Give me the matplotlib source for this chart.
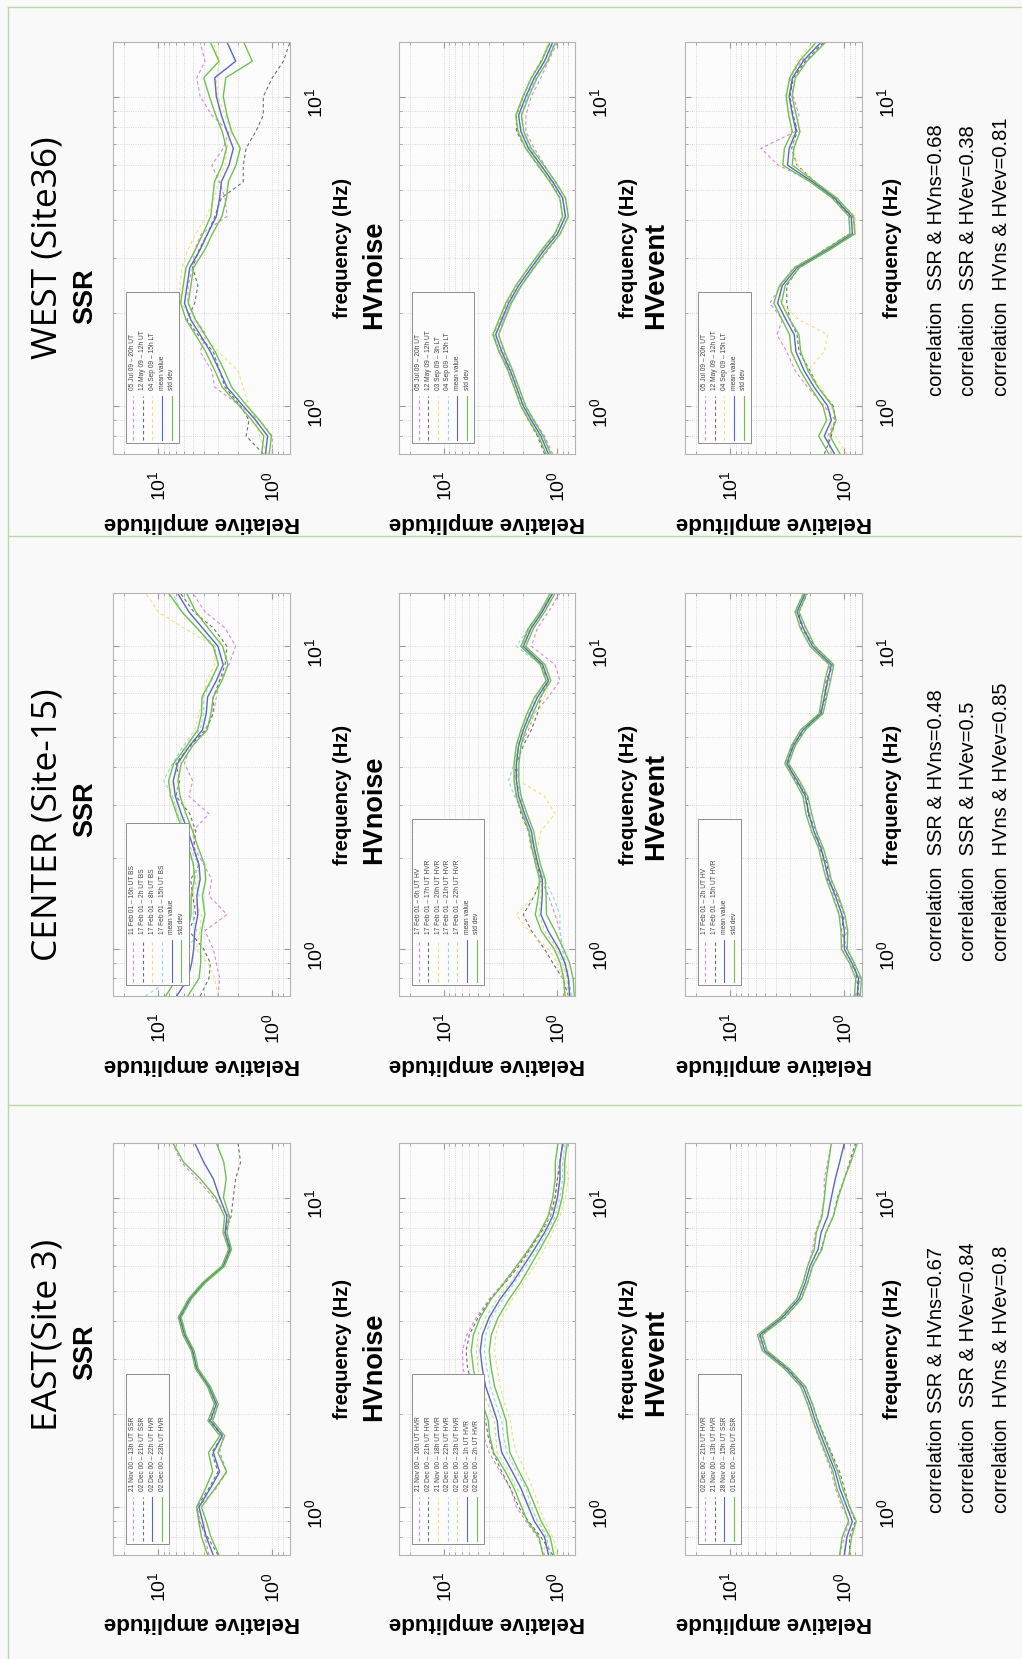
import matplotlib
matplotlib.use('Agg')
import matplotlib.pyplot as plt
from matplotlib.lines import Line2D
from matplotlib.patches import Rectangle
from matplotlib.ticker import LogLocator, NullFormatter

plt.rcParams['font.family'] = ['Liberation Sans', 'DejaVu Sans']
plt.rcParams['mathtext.fontset'] = 'custom'
plt.rcParams['mathtext.rm'] = 'Liberation Sans'
plt.rcParams['mathtext.it'] = 'Liberation Sans:italic'
plt.rcParams['mathtext.bf'] = 'Liberation Sans:bold'

W, H = 1022, 1659

# frequency samples (Hz) shared by all panels
FREQ = [0.7, 0.8, 0.9, 1.0, 1.15, 1.3, 1.5, 1.7, 1.9, 2.15, 2.45, 2.8, 3.2, 3.6,
        4.1, 4.7, 5.3, 6.0, 6.8, 7.7, 8.7, 10, 11.5, 13, 15]

# ---------------- EAST (Site 3) ----------------
east_ssr_mean = [3.3, 3.8, 4.1, 4.4, 3.5, 2.9, 3.3, 2.75, 3.5, 3.1, 3.6, 4.6, 5.0, 5.9, 6.5, 5.3, 4.0, 2.7, 2.35, 2.6, 2.5, 2.9, 3.3, 4.0, 4.8]
east_ssr_std = [1.12, 1.1, 1.08, 1.05, 1.1, 1.15, 1.1, 1.05, 1.05, 1.04, 1.03, 1.03, 1.03, 1.03, 1.03, 1.03, 1.03, 1.03, 1.03, 1.04, 1.05, 1.08, 1.3, 1.5, 1.55]
east_ssr_runs = [
    [3.6, 3.9, 4.3, 4.5, 3.1, 2.5, 2.9, 2.7, 3.4, 3.0, 3.6, 4.6, 5.1, 6.1, 6.6, 5.3, 3.9, 2.7, 2.4, 2.6, 2.4, 3.3, 4.6, 6.3, 7.5],
    [3.0, 3.7, 4.4, 4.6, 3.6, 3.0, 3.4, 2.75, 3.6, 3.2, 3.7, 4.7, 5.0, 5.8, 6.4, 5.2, 4.0, 2.7, 2.3, 2.6, 2.3, 2.2, 2.1, 1.9, 2.0],
]
east_ssr_labels = ['21 Nov 00 – 13h UT SSR', '02 Dec 00 – 21h UT SSR',
                   '02 Dec 00 – 22h UT HVR', '02 Dec 00 – 23h UT HVR']

east_hvn_mean = [1.2, 1.3, 1.6, 1.8, 2.1, 2.5, 3.1, 3.3, 3.4, 3.8, 4.3, 4.6, 4.8, 4.6, 4.0, 3.2, 2.5, 2.0, 1.6, 1.3, 1.1, 1.0, 0.95, 0.95, 0.9]
east_hvn_std = [1.12, 1.12, 1.15, 1.15, 1.15, 1.15, 1.18, 1.2, 1.2, 1.2, 1.2, 1.2, 1.2, 1.2, 1.2, 1.2, 1.18, 1.15, 1.12, 1.1, 1.1, 1.1, 1.1, 1.1, 1.1]
east_hvn_runs = [
    [1.3, 1.5, 1.9, 2.3, 2.6, 3.2, 4.0, 4.5, 4.8, 5.4, 6.2, 6.8, 6.9, 6.3, 5.2, 4.0, 3.0, 2.3, 1.8, 1.45, 1.2, 1.05, 1.0, 0.95, 0.9],
    [1.1, 1.4, 1.8, 2.2, 2.6, 3.1, 3.7, 4.1, 4.3, 4.9, 5.6, 6.2, 6.4, 6.0, 5.0, 3.9, 2.9, 2.2, 1.75, 1.4, 1.15, 1.05, 1.0, 0.95, 0.9],
    [1.0, 1.1, 1.3, 1.45, 1.65, 1.9, 2.3, 2.5, 2.6, 2.9, 3.2, 3.4, 3.6, 3.5, 3.1, 2.5, 2.0, 1.6, 1.3, 1.1, 0.95, 0.85, 0.8, 0.85, 0.85],
    [1.15, 1.25, 1.5, 1.7, 1.9, 2.3, 2.8, 3.0, 3.1, 3.5, 3.9, 4.2, 4.4, 4.3, 3.8, 3.0, 2.4, 1.9, 1.5, 1.25, 1.05, 0.95, 0.9, 0.9, 0.85],
    [1.35, 1.2, 1.5, 1.7, 2.3, 2.7, 3.4, 3.5, 3.6, 4.1, 4.7, 5.0, 5.2, 5.0, 4.3, 3.4, 2.6, 2.1, 1.7, 1.35, 1.15, 1.0, 0.95, 0.95, 0.9],
]
east_hvn_labels = ['21 Nov 00 – 16h UT HVR', '02 Dec 00 – 21h UT HVR', '21 Nov 00 – 18h UT HVR',
                   '02 Dec 00 – 22h UT HVR', '02 Dec 00 – 23h UT HVR', '02 Dec 00 – 1h UT HVR',
                   '02 Dec 00 – 2h UT HVR']

east_hve_mean = [1.0, 0.95, 0.85, 0.95, 1.1, 1.2, 1.4, 1.6, 1.8, 2.0, 2.3, 3.2, 5.0, 5.5, 3.5, 2.5, 2.2, 2.0, 1.7, 1.6, 1.4, 1.3, 1.2, 1.1, 1.0]
east_hve_std = [1.1, 1.1, 1.08, 1.06, 1.06, 1.05, 1.05, 1.05, 1.05, 1.05, 1.05, 1.05, 1.05, 1.05, 1.05, 1.05, 1.05, 1.05, 1.08, 1.1, 1.12, 1.15, 1.2, 1.25, 1.3]
east_hve_runs = [
    [1.1, 1.0, 0.9, 1.05, 1.2, 1.3, 1.5, 1.7, 1.9, 2.1, 2.4, 3.3, 5.2, 5.6, 3.6, 2.6, 2.3, 2.1, 1.9, 1.8, 1.6, 1.5, 1.5, 1.4, 1.3],
    [0.9, 0.9, 0.8, 0.9, 1.0, 1.1, 1.3, 1.5, 1.7, 1.9, 2.2, 3.1, 4.8, 5.3, 3.3, 2.4, 2.1, 1.9, 1.6, 1.45, 1.25, 1.15, 1.0, 0.9, 0.8],
]
east_hve_labels = ['02 Dec 00 – 21h UT HVR', '21 Nov 00 – 13h UT HVR',
                   '28 Nov 00 – 15h UT SSR', '01 Dec 00 – 20h UT SSR']

# ---------------- CENTER (Site-15) ----------------
center_ssr_mean = [6.9, 5.5, 5.1, 4.9, 4.8, 4.5, 4.6, 4.3, 4.4, 4.9, 5.5, 6.3, 7.1, 7.4, 6.8, 5.3, 4.1, 3.8, 3.7, 3.1, 2.7, 3.0, 4.1, 5.4, 6.8]
center_ssr_std = [1.25, 1.25, 1.2, 1.15, 1.15, 1.15, 1.12, 1.12, 1.12, 1.1, 1.1, 1.1, 1.1, 1.1, 1.08, 1.06, 1.1, 1.1, 1.12, 1.12, 1.1, 1.1, 1.12, 1.15, 1.2]
center_ssr_runs = [
    [3.0, 2.9, 3.1, 3.3, 3.9, 2.5, 3.6, 3.4, 4.0, 4.8, 5.0, 3.6, 5.4, 5.0, 5.9, 5.2, 3.9, 3.3, 3.1, 2.9, 2.4, 2.1, 2.6, 3.9, 5.0],
    [4.3, 3.6, 3.5, 4.0, 5.4, 4.7, 5.0, 5.2, 4.4, 4.9, 4.7, 5.3, 7.0, 6.5, 7.0, 5.3, 3.8, 3.3, 3.3, 2.9, 2.6, 2.5, 3.3, 4.9, 6.4],
    [3.0, 3.2, 3.7, 4.7, 4.3, 4.2, 5.0, 4.4, 5.0, 5.5, 6.0, 6.5, 8.0, 7.5, 6.5, 6.0, 4.8, 4.4, 4.0, 3.8, 3.2, 3.2, 6.0, 10.0, 13.0],
    [13.0, 7.5, 5.8, 5.4, 4.6, 5.0, 4.4, 4.8, 4.5, 5.2, 5.6, 6.8, 7.5, 9.0, 7.5, 6.0, 4.3, 4.0, 4.0, 3.4, 3.0, 3.2, 4.6, 6.3, 7.5],
]
center_ssr_labels = ['11 Feb 01 – 16h UT BS', '17 Feb 01 – 2h UT BS', '17 Feb 01 – 8h UT BS',
                     '17 Feb 01 – 15h UT BS', 'mean value', 'std dev']

center_hvn_mean = [0.78, 0.8, 0.86, 0.97, 1.21, 1.4, 1.36, 1.36, 1.48, 1.6, 1.7, 1.95, 2.2, 2.3, 2.3, 2.2, 2.0, 1.75, 1.5, 1.2, 1.35, 2.0, 1.7, 1.36, 1.1]
center_hvn_std = [1.1, 1.1, 1.1, 1.1, 1.15, 1.12, 1.08, 1.06, 1.05, 1.05, 1.05, 1.05, 1.05, 1.05, 1.05, 1.05, 1.05, 1.06, 1.06, 1.05, 1.05, 1.05, 1.05, 1.05, 1.05]
center_hvn_runs = [
    [0.75, 0.8, 0.85, 0.9, 0.95, 1.05, 1.2, 1.4, 1.5, 1.6, 1.8, 2.0, 2.1, 2.3, 2.2, 2.1, 1.8, 1.6, 1.2, 0.95, 1.05, 1.7, 1.5, 1.2, 0.95],
    [0.8, 0.9, 1.1, 1.3, 1.7, 2.0, 1.6, 1.4, 1.5, 1.7, 1.8, 2.1, 2.3, 2.4, 2.3, 2.0, 1.7, 1.5, 1.4, 1.2, 1.4, 2.1, 1.8, 1.4, 1.1],
    [0.85, 0.9, 1.0, 1.2, 1.8, 2.3, 1.6, 1.4, 1.6, 1.5, 1.4, 1.05, 1.3, 2.2, 2.2, 2.1, 1.9, 1.6, 1.3, 1.15, 1.3, 2.1, 1.7, 1.3, 1.1],
    [0.75, 0.8, 0.85, 0.9, 0.95, 0.95, 1.1, 1.3, 1.5, 1.6, 1.8, 2.0, 2.4, 2.7, 2.4, 2.2, 1.9, 1.7, 1.5, 1.25, 1.4, 2.3, 1.8, 1.4, 1.1],
    [0.8, 0.82, 0.9, 1.0, 1.3, 1.45, 1.4, 1.38, 1.5, 1.65, 1.75, 2.0, 2.25, 2.35, 2.35, 2.25, 2.05, 1.8, 1.55, 1.25, 1.4, 2.05, 1.75, 1.4, 1.15],
]
center_hvn_labels = ['17 Feb 01 – 6h UT HV', '17 Feb 01 – 17h UT HVR', '17 Feb 01 – 20h UT HVR',
                     '17 Feb 01 – 21h UT HVR', '17 Feb 01 – 22h UT HVR', 'mean value', 'std dev']

center_hve_mean = [0.77, 0.75, 0.86, 1.0, 1.0, 1.05, 1.2, 1.37, 1.47, 1.6, 1.85, 2.05, 2.2, 2.6, 3.2, 2.8, 2.3, 1.6, 1.5, 1.4, 1.3, 1.9, 2.3, 2.6, 2.2]
center_hve_std = [1.06, 1.06, 1.05, 1.06, 1.07, 1.06, 1.06, 1.05, 1.06, 1.05, 1.05, 1.06, 1.05, 1.05, 1.04, 1.04, 1.05, 1.04, 1.05, 1.06, 1.05, 1.05, 1.06, 1.04, 1.03]
center_hve_runs = [
    [0.8, 0.72, 0.9, 1.05, 0.95, 1.1, 1.25, 1.3, 1.55, 1.55, 1.95, 2.0, 2.3, 2.5, 3.35, 2.7, 2.4, 1.55, 1.6, 1.35, 1.35, 2.0, 2.2, 2.7, 2.3],
    [0.74, 0.78, 0.82, 0.95, 1.06, 1.0, 1.15, 1.42, 1.4, 1.65, 1.75, 2.1, 2.1, 2.7, 3.1, 2.9, 2.2, 1.65, 1.45, 1.45, 1.25, 1.8, 2.4, 2.5, 2.1],
]
center_hve_labels = ['17 Feb 01 – 2h UT HV', '17 Feb 01 – 15h UT HVR', 'mean value', 'std dev']

# ---------------- WEST (Site36) ----------------
west_ssr_mean = [1.15, 1.1, 1.4, 1.8, 2.5, 2.9, 3.5, 4.3, 5.2, 5.9, 5.6, 5.3, 4.3, 3.7, 3.1, 2.9, 2.8, 2.4, 2.2, 2.5, 2.8, 3.1, 3.2, 2.1, 2.5]
west_ssr_std = [1.08, 1.08, 1.08, 1.08, 1.1, 1.1, 1.1, 1.1, 1.1, 1.08, 1.08, 1.08, 1.1, 1.1, 1.12, 1.15, 1.15, 1.15, 1.15, 1.1, 1.12, 1.15, 1.25, 1.4, 1.4]
west_ssr_runs = [
    [1.0, 1.0, 1.3, 1.9, 3.2, 3.4, 4.3, 3.8, 4.7, 5.5, 5.5, 5.0, 4.8, 4.2, 2.5, 2.6, 2.9, 3.4, 2.7, 2.4, 3.4, 4.3, 4.6, 3.9, 4.3],
    [1.2, 1.7, 1.6, 1.9, 2.6, 2.9, 3.3, 4.5, 5.6, 4.8, 4.5, 5.0, 4.4, 3.7, 3.2, 2.8, 1.8, 1.8, 1.7, 1.4, 1.2, 1.2, 1.0, 0.8, 0.7],
    [1.1, 1.3, 1.4, 1.6, 1.8, 2.0, 3.0, 4.0, 5.0, 6.3, 6.5, 6.2, 5.5, 4.7, 3.8, 3.2, 3.0, 2.6, 2.5, 2.3, 2.6, 3.0, 3.1, 2.9, 3.3],
]
west_ssr_labels = ['05 Jul 09 – 20h UT', '12 May 09 – 12h UT', '04 Sep 09 – 15h LT',
                   'mean value', 'std dev']

west_hvn_mean = [1.2, 1.4, 1.7, 2.0, 2.3, 2.6, 3.1, 3.5, 3.1, 2.7, 2.2, 1.7, 1.3, 1.0, 0.85, 0.9, 1.1, 1.4, 1.8, 2.1, 2.2, 1.9, 1.6, 1.3, 1.1]
west_hvn_std = [1.05, 1.05, 1.05, 1.05, 1.05, 1.05, 1.06, 1.06, 1.06, 1.06, 1.06, 1.06, 1.06, 1.06, 1.06, 1.06, 1.06, 1.06, 1.06, 1.06, 1.06, 1.06, 1.06, 1.06, 1.06]
west_hvn_runs = [
    [1.1, 1.3, 1.6, 1.9, 2.2, 2.5, 3.0, 3.3, 3.0, 2.6, 2.1, 1.6, 1.2, 0.95, 0.8, 0.85, 1.05, 1.3, 1.6, 1.9, 1.9, 1.7, 1.4, 1.2, 1.0],
    [1.3, 1.5, 1.8, 2.1, 2.4, 2.7, 3.2, 3.7, 3.2, 2.8, 2.3, 1.8, 1.35, 1.05, 0.9, 0.95, 1.15, 1.5, 1.9, 2.3, 2.3, 2.0, 1.7, 1.4, 1.15],
    [1.25, 1.45, 1.75, 2.05, 2.35, 2.75, 3.2, 3.6, 3.2, 2.8, 2.3, 1.8, 1.35, 1.0, 0.85, 0.9, 1.1, 1.45, 1.85, 2.2, 2.3, 2.0, 1.7, 1.4, 1.2],
    [1.15, 1.35, 1.65, 1.95, 2.2, 2.6, 3.3, 3.6, 3.0, 2.6, 2.1, 1.65, 1.3, 1.0, 0.85, 0.9, 1.1, 1.4, 1.75, 2.0, 2.1, 1.85, 1.55, 1.3, 1.05],
]
west_hvn_labels = ['05 Jul 09 – 20h UT', '12 May 09 – 12h UT', '03 Sep 09 – 3h LT',
                   '04 Sep 09 – 15h LT', 'mean value', 'std dev']

west_hve_mean = [1.22, 1.5, 1.3, 1.4, 1.84, 2.25, 2.66, 2.75, 3.25, 3.85, 3.5, 2.6, 1.4, 0.85, 0.87, 1.22, 1.9, 3.15, 3.05, 2.65, 2.85, 3.05, 2.85, 2.3, 1.6]
west_hve_std = [1.12, 1.12, 1.1, 1.1, 1.08, 1.08, 1.1, 1.1, 1.08, 1.08, 1.06, 1.05, 1.05, 1.05, 1.05, 1.05, 1.05, 1.1, 1.1, 1.08, 1.08, 1.06, 1.06, 1.08, 1.1]
west_hve_runs = [
    [1.3, 1.4, 1.2, 1.5, 2.1, 2.7, 3.2, 3.9, 3.5, 4.5, 3.6, 2.8, 1.4, 0.8, 0.85, 1.2, 1.9, 3.8, 5.4, 2.7, 2.5, 2.8, 3.0, 2.4, 1.5],
    [1.5, 1.3, 1.2, 1.25, 1.7, 2.0, 2.5, 2.6, 3.0, 3.2, 3.2, 2.5, 1.5, 0.9, 0.9, 1.25, 1.8, 2.6, 2.9, 2.6, 2.8, 3.0, 2.8, 2.2, 1.5],
    [0.95, 1.2, 1.35, 1.3, 1.6, 2.1, 1.5, 1.4, 2.5, 3.6, 3.7, 2.7, 1.5, 0.8, 0.8, 1.2, 1.8, 2.6, 2.8, 2.9, 3.0, 3.3, 3.0, 2.6, 1.9],
]
west_hve_labels = ['05 Jul 09 – 20h UT', '12 May 09 – 12h UT', '04 Sep 09 – 15h LT',
                   'mean value', 'std dev']

correlations = {
    'WEST': ['correlation  SSR & HVns=0.68', 'correlation  SSR & HVev=0.38', 'correlation  HVns & HVev=0.81'],
    'CENTER': ['correlation  SSR & HVns=0.48', 'correlation  SSR & HVev=0.5', 'correlation  HVns & HVev=0.85'],
    'EAST': ['correlation SSR & HVns=0.67', 'correlation  SSR & HVev=0.84', 'correlation  HVns & HVev=0.8'],
}
site_titles = {'WEST': 'WEST (Site36)', 'CENTER': 'CENTER (Site-15)', 'EAST': 'EAST(Site 3)'}
method_titles = ['SSR', 'HVnoise', 'HVevent']

BLUE = '#5b67c2'
GREEN = '#6fc152'
DASH_COLORS = ['#d88ad0', '#6e6e6e', '#efe07a', '#92d6ea', '#c8df7c']
BG = '#f9f9f9'
LINE_GREEN = '#b9d9a2'

# pixel layout of the page (rotated figure)
COLS = [(113, 290), (399, 575), (685, 862)]
ROWS = {'WEST': (42, 454), 'CENTER': (593, 996), 'EAST': (1143, 1555)}
FREQ_LABEL_DX = [52, 53, 30]
TITLE_POS = {'WEST': (48, 248), 'CENTER': (48, 825), 'EAST': (48, 1335)}
METHOD_X = [85, 374, 656]
METHOD_Y = {'WEST': [296, 275, 275], 'CENTER': [809, 810, 806], 'EAST': [1352, 1367, 1362]}
CORR_X = [936, 968, 1001]
CORR_Y = {'WEST': 396, 'CENTER': 961, 'EAST': 1513}
SEPARATORS = [7, 536, 1105]

fig = plt.figure(figsize=(W / 100, H / 100), dpi=100, facecolor=BG)


def fx(x):
    return x / W


def fy(y):
    return 1 - y / H


def draw_legend(ax, labels, n_runs):
    n = len(labels)
    step = 0.055
    x0, y0 = 0.072, 0.027
    w = 0.08 + (n - 1) * step
    h = 0.16 + 0.0115 * max(len(s) for s in labels)
    ax.add_patch(Rectangle((x0, y0), w, h, transform=ax.transAxes, facecolor='#fcfcfc',
                           edgecolor='#8c8c8c', lw=0.7, zorder=5))
    for i, label in enumerate(labels):
        x = x0 + 0.04 + i * step
        if i < n_runs:
            color, ls = DASH_COLORS[i], (0, (3, 2.5))
        elif i == n_runs:
            color, ls = BLUE, '-'
        else:
            color, ls = GREEN, '-'
        ax.add_line(Line2D([x, x], [0.035, 0.14], transform=ax.transAxes, color=color,
                           ls=ls, lw=0.8, zorder=6))
        ax.text(x, 0.155, label, transform=ax.transAxes, rotation=90, ha='center',
                va='bottom', fontsize=4.8, color='#444444', zorder=6)


def draw_panel(col, row, mean, std, runs, labels):
    x0, x1 = COLS[col]
    y0, y1 = ROWS[row]
    ax = fig.add_axes([fx(x0), fy(y1), (x1 - x0) / W, (y1 - y0) / H])
    ax.set_facecolor('#fcfcfc')

    for i, run in enumerate(runs):
        ax.plot(run, FREQ, color=DASH_COLORS[i], lw=0.8, ls=(0, (3, 2.5)))
    ax.plot(mean, FREQ, color=BLUE, lw=1.0)
    ax.plot([m * s for m, s in zip(mean, std)], FREQ, color=GREEN, lw=1.0)
    ax.plot([m / s for m, s in zip(mean, std)], FREQ, color=GREEN, lw=1.0)

    # amplitude runs horizontally (reversed), frequency vertically
    ax.set_xscale('log')
    ax.set_yscale('log')
    ax.set_xlim(25, 0.7)
    ax.set_ylim(0.7, 15)
    ax.set_xticks([1, 10])
    ax.set_xticklabels(['$10^{0}$', '$10^{1}$'], rotation=90)
    ax.set_yticks([1, 10])
    ax.set_yticklabels(['$10^{0}$', '$10^{1}$'], rotation=90)
    ax.xaxis.set_minor_locator(LogLocator(base=10, subs=(2, 3, 4, 5, 6, 7, 8, 9)))
    ax.yaxis.set_minor_locator(LogLocator(base=10, subs=(2, 3, 4, 5, 6, 7, 8, 9)))
    ax.xaxis.set_minor_formatter(NullFormatter())
    ax.yaxis.set_minor_formatter(NullFormatter())
    ax.tick_params(which='both', direction='in', top=True, bottom=True, left=True, right=True,
                   labelleft=False, labelright=True, color='#9a9a9a')
    ax.tick_params(which='major', length=4)
    ax.tick_params(which='minor', length=2)
    ax.tick_params(axis='x', labelsize=14, pad=12)
    ax.tick_params(axis='y', labelsize=14, pad=10)
    ax.grid(True, which='both', ls=':', color='#cdcdcd', lw=0.6)
    for sp in ax.spines.values():
        sp.set_color('#b4b4b4')
        sp.set_linewidth(0.8)

    draw_legend(ax, labels, len(runs))

    ax.annotate('Relative amplitude', xy=(0.5, 0), xycoords='axes fraction', xytext=(0, -68),
                textcoords='offset pixels', rotation=180, ha='center', va='center',
                fontsize=16, fontweight='bold')
    ax.annotate('frequency (Hz)', xy=(1, 0.5), xycoords='axes fraction',
                xytext=(FREQ_LABEL_DX[col], 0), textcoords='offset pixels', rotation=90,
                ha='center', va='center', fontsize=14.5, fontweight='bold')
    return ax


panels = [
    (0, 'EAST', east_ssr_mean, east_ssr_std, east_ssr_runs, east_ssr_labels),
    (1, 'EAST', east_hvn_mean, east_hvn_std, east_hvn_runs, east_hvn_labels),
    (2, 'EAST', east_hve_mean, east_hve_std, east_hve_runs, east_hve_labels),
    (0, 'CENTER', center_ssr_mean, center_ssr_std, center_ssr_runs, center_ssr_labels),
    (1, 'CENTER', center_hvn_mean, center_hvn_std, center_hvn_runs, center_hvn_labels),
    (2, 'CENTER', center_hve_mean, center_hve_std, center_hve_runs, center_hve_labels),
    (0, 'WEST', west_ssr_mean, west_ssr_std, west_ssr_runs, west_ssr_labels),
    (1, 'WEST', west_hvn_mean, west_hvn_std, west_hvn_runs, west_hvn_labels),
    (2, 'WEST', west_hve_mean, west_hve_std, west_hve_runs, west_hve_labels),
]
for p in panels:
    draw_panel(*p)

# titles, method names and correlation notes
for row in ROWS:
    tx, ty = TITLE_POS[row]
    fig.text(fx(tx), fy(ty), site_titles[row], rotation=90, ha='center', va='center',
             fontsize=25.5, family=['Open Sans', 'DejaVu Sans'])
    for col, name in enumerate(method_titles):
        fig.text(fx(METHOD_X[col]), fy(METHOD_Y[row][col]), name, rotation=90, ha='center',
                 va='center', fontsize=19.5, fontweight='bold')
    for i, txt in enumerate(correlations[row]):
        fig.text(fx(CORR_X[i]), fy(CORR_Y[row]), txt, rotation=90, ha='center', va='bottom',
                 fontsize=14.5)

# thin green frame lines between the site blocks
for y in SEPARATORS:
    fig.add_artist(Line2D([fx(8), 1], [fy(y), fy(y)], color=LINE_GREEN, lw=1))
fig.add_artist(Line2D([fx(8), fx(8)], [fy(SEPARATORS[0]), 0], color=LINE_GREEN, lw=1))

fig.savefig('out.png', dpi=100, facecolor=fig.get_facecolor())
